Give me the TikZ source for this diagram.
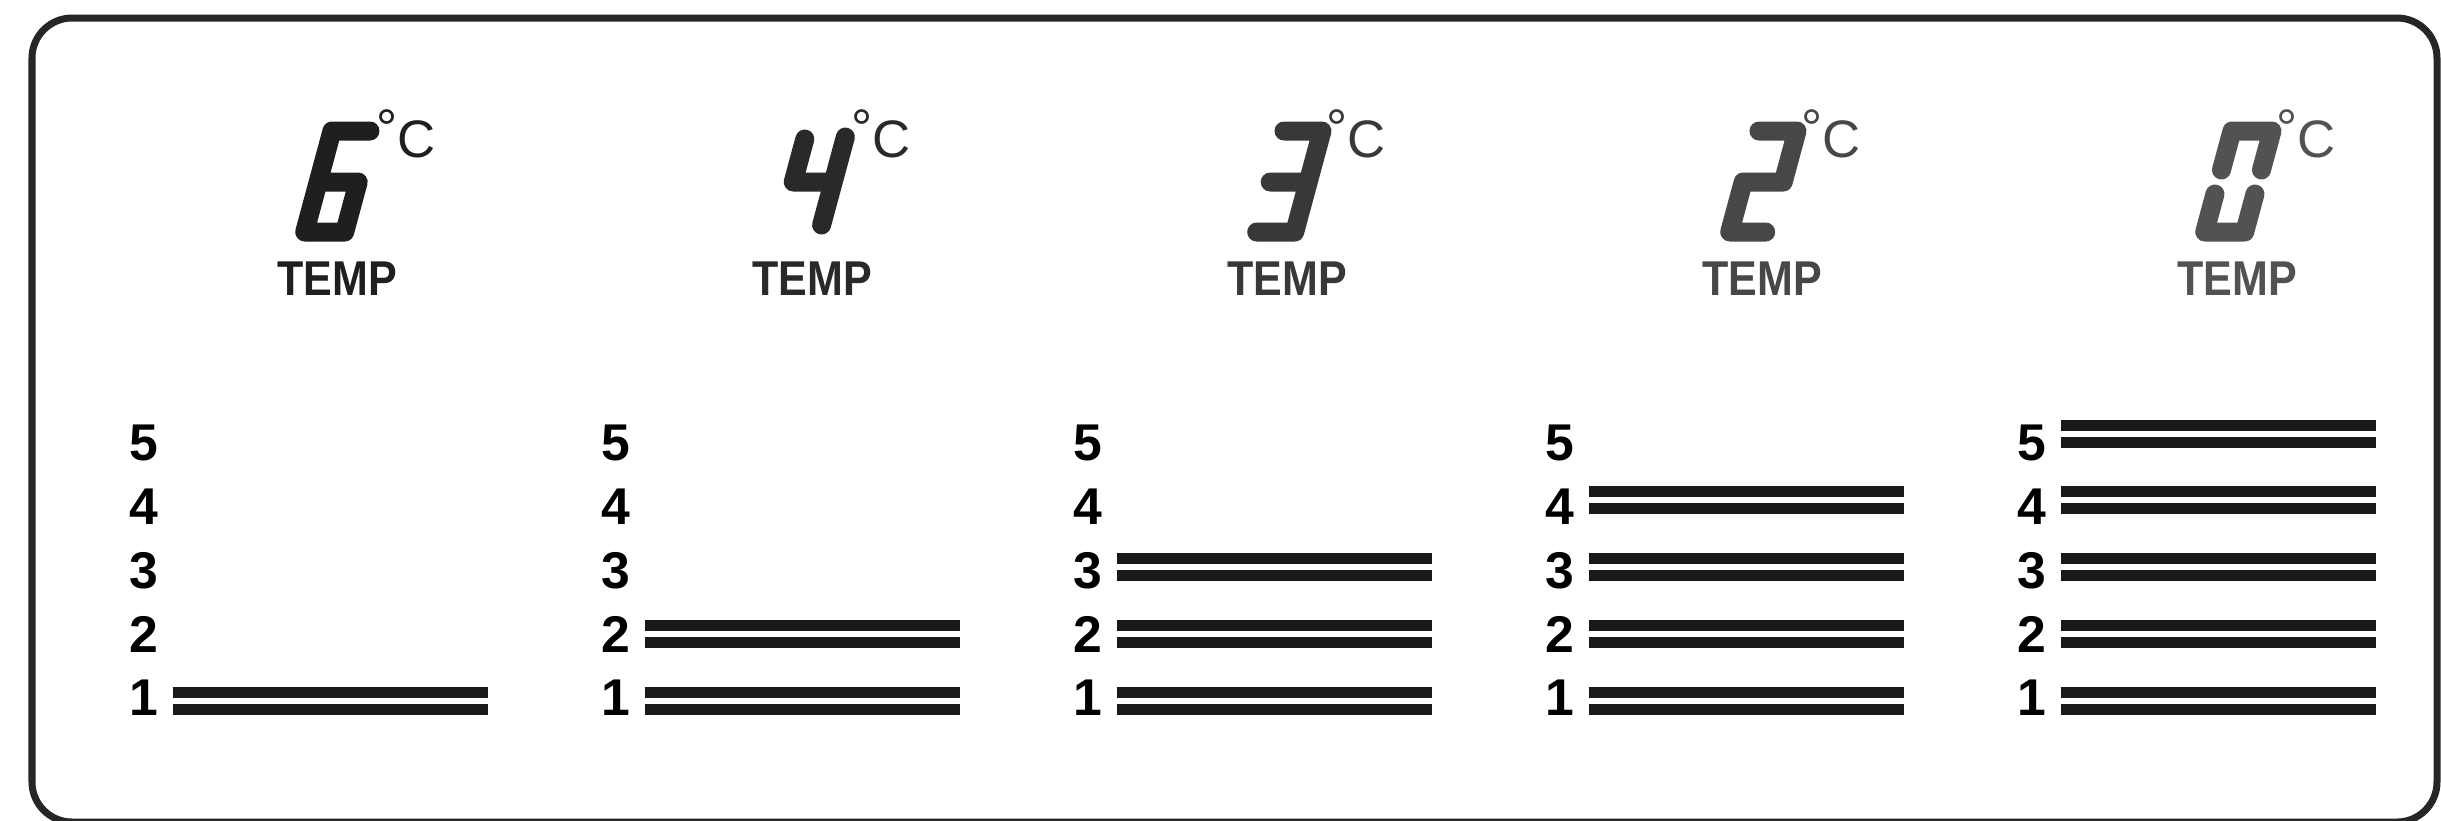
\documentclass[tikz,border=0pt]{standalone}
\usepackage{fontspec}
\setmainfont{Liberation Sans}

\begin{document}
\begin{tikzpicture}
[x=0.01cm,y=-0.01cm,
 lcdseg/.style={line width=0.19cm,line cap=round,line join=round},
 lcdpos/.style={shift={#1},xslant=0.27},
 lcdbar/.style={line width=0.11cm,black!90},
 degc/.style={anchor=base west,inner sep=0,font=\fontsize{15pt}{15pt}\selectfont},
 tempbox/.style={anchor=base,inner sep=0,xscale=0.88,font=\fontsize{13.9pt}{14pt}\selectfont\bfseries},
 numbox/.style={anchor=center,inner sep=0,font=\fontsize{14.7pt}{15pt}\selectfont\bfseries}]
\useasboundingbox (0,0) rectangle (2441,820);
\draw[black!85,line width=0.07cm,rounded corners=0.4cm] (32,18) rectangle (2437,822);
% big digits 6 4 3 2 0
\draw[lcdseg,black!88,lcdpos={(292,242)}] (48,-111) -- (10,-111) -- (10,-10) -- (50,-10) -- (50,-60) -- (10,-60);
\draw[lcdseg,black!84,lcdpos={(767,242)}] (10,-103) -- (10,-60) -- (50,-60) (50,-105) -- (50,-17);
\draw[lcdseg,black!78,lcdpos={(1242,242)}] (12,-111) -- (50,-111) -- (50,-10) -- (12,-10) (12,-60) -- (50,-60);
\draw[lcdseg,black!72,lcdpos={(1717,242)}] (12,-111) -- (50,-111) -- (50,-60) -- (10,-60) -- (10,-10) -- (46,-10);
\draw[lcdseg,black!68,lcdpos={(2192,242)}] (10,-72) -- (10,-111) -- (50,-111) -- (50,-72)
  (10,-48) -- (10,-10) -- (50,-10) -- (50,-48);
% degree and TEMP labels
\foreach \i/\x/\g in {1/292/88,2/767/84,3/1242/78,4/1717/72,5/2192/68}{
  \node[degc,text=black!\g] (deg\i) at (\x+84,157) {\raisebox{3pt}{°}C};
  \node[tempbox,text=black!\g] (temp\i) at (\x+45,295) {TEMP};
}
% level numbers and bars
\foreach \c in {0,...,4}{
  \pgfmathsetmacro\bx{173+472*\c}
  \pgfmathtruncatemacro\nb{\c+1}
  \foreach \k in {1,...,5}
    \node[numbox] (num\c-\k) at (\bx-29,{698-(\k-1)*63.75}) {\k};
  \foreach \k in {1,...,\nb}{
    \pgfmathsetmacro\yc{700.5-(\k-1)*66.75}
    \draw[lcdbar] (\bx,\yc-8.5) -- ++(315,0) (\bx,\yc+8.5) -- ++(315,0);
  }
}
\end{tikzpicture}
\end{document}
